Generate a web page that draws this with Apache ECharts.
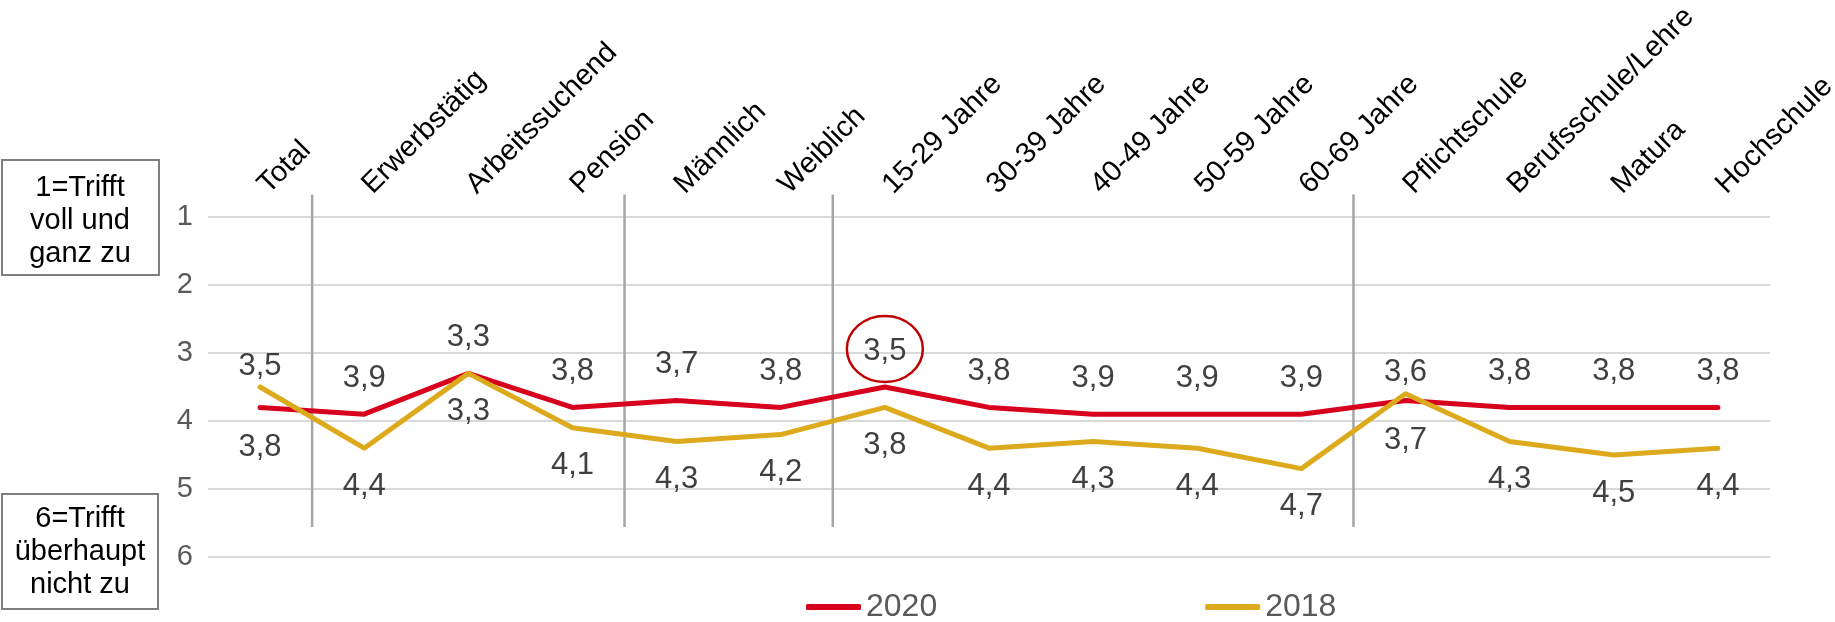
<!DOCTYPE html>
<html>
<head>
<meta charset="utf-8">
<title>Zustimmung nach Gruppen 2020 / 2018</title>
<script src="https://cdn.jsdelivr.net/npm/echarts@6/dist/echarts.min.js"></script>
<style>
  html, body { margin: 0; padding: 0; background: #ffffff; }
  #chart { width: 1835px; height: 622px; }
</style>
</head>
<body>
<div id="chart"></div>
<script>
// Groups shown along the top axis
const categories = [
  'Total', 'Erwerbstätig', 'Arbeitssuchend', 'Pension', 'Männlich', 'Weiblich',
  '15-29 Jahre', '30-39 Jahre', '40-49 Jahre', '50-59 Jahre', '60-69 Jahre',
  'Pflichtschule', 'Berufsschule/Lehre', 'Matura', 'Hochschule'
];

// Mean ratings (1 = trifft voll und ganz zu … 6 = trifft überhaupt nicht zu)
const values2020 = [3.8, 3.9, 3.3, 3.8, 3.7, 3.8, 3.5, 3.8, 3.9, 3.9, 3.9, 3.7, 3.8, 3.8, 3.8];
const values2018 = [3.5, 4.4, 3.3, 4.1, 4.3, 4.2, 3.8, 4.4, 4.3, 4.4, 4.7, 3.6, 4.3, 4.5, 4.4];

const seriesNames = ['2020', '2018'];
const yTicks = [1, 2, 3, 4, 5, 6];

// Last category of each group; a divider is drawn right after it
const groupEnds = ['Total', 'Pension', 'Weiblich', '60-69 Jahre'];

// 2020 value that gets a ring around its label
const highlightCategory = '15-29 Jahre';

const RED = '#d7001d';
const GOLD = '#dcaa1c';
const FONT = '"Liberation Sans", Arial, sans-serif';

const fmt = v => v.toFixed(1).replace('.', ',');

// Label placement: the lower-rated (higher on the chart) series puts its label above
function buildData(own, other, preferTopOnTie, topDist, bottomDist) {
  return own.map((v, i) => {
    const o = other[i];
    const top = v < o || (v === o && preferTopOnTie);
    return {
      value: v,
      label: {
        position: top ? 'top' : 'bottom',
        distance: top ? topDist : bottomDist
      }
    };
  });
}

const data2020 = buildData(values2020, values2018, true, 20, 24);
const data2018 = buildData(values2018, values2020, false, 5, 22);

const chart = echarts.init(document.getElementById('chart'), null, { renderer: 'canvas' });

const lineSeries = (name, data, color) => ({
  name,
  type: 'line',
  data,
  z: 3,
  symbol: 'circle',
  symbolSize: 1,
  itemStyle: { color },
  lineStyle: { color, width: 5, cap: 'round', join: 'round' },
  emphasis: { disabled: true },
  label: {
    show: true,
    formatter: p => fmt(p.value),
    fontSize: 31,
    fontFamily: FONT,
    color: '#404040'
  }
});

const option = {
  animation: false,
  backgroundColor: '#ffffff',
  textStyle: { fontFamily: FONT },
  grid: {
    left: 208, right: 65, top: 217, bottom: 65,
    containLabel: false,
    outerBoundsMode: 'none'
  },
  legend: {
    data: seriesNames,
    left: 801,
    top: 586,
    icon: 'roundRect',
    itemWidth: 55,
    itemHeight: 6,
    itemGap: 268,
    textStyle: { fontSize: 32, color: '#595959', fontFamily: FONT }
  },
  xAxis: {
    type: 'category',
    data: categories,
    position: 'top',
    boundaryGap: true,
    axisLine: { show: false },
    axisTick: { show: false },
    splitLine: { show: false },
    axisLabel: {
      interval: 0,
      rotate: -45,
      margin: 25,
      padding: [0, 0, 0, 4],
      fontSize: 29,
      color: '#000000',
      fontFamily: FONT
    }
  },
  yAxis: {
    type: 'value',
    inverse: true,
    min: yTicks[0],
    max: yTicks[yTicks.length - 1],
    interval: 1,
    axisLine: { show: false },
    axisTick: { show: false },
    splitLine: { lineStyle: { color: '#d9d9d9', width: 2 } },
    axisLabel: {
      margin: 15,
      fontSize: 29,
      color: '#595959',
      fontFamily: FONT,
      formatter: v => String(v)
    }
  },
  series: [
    // group dividers between category blocks
    {
      type: 'custom',
      silent: true,
      z: 1,
      data: groupEnds.map(c => [categories.indexOf(c), 1]),
      renderItem: (params, api) => {
        const idx = api.value(0);
        const half = api.size([1, 0])[0] / 2;
        const x = api.coord([idx, 1])[0] + half;
        const y0 = api.coord([idx, 0.67])[1];
        const y1 = api.coord([idx, 5.56])[1];
        return {
          type: 'line',
          shape: { x1: x, y1: y0, x2: x, y2: y1 },
          style: { stroke: '#a6a6a6', lineWidth: 2.5 }
        };
      }
    },
    lineSeries(seriesNames[0], data2020, RED),
    lineSeries(seriesNames[1], data2018, GOLD),
    // ring around the highlighted 2020 label
    {
      type: 'custom',
      silent: true,
      z: 4,
      data: [[categories.indexOf(highlightCategory), values2020[categories.indexOf(highlightCategory)]]],
      renderItem: (params, api) => {
        const p = api.coord([api.value(0), api.value(1)]);
        return {
          type: 'ellipse',
          shape: { cx: p[0], cy: p[1] - 38, rx: 38, ry: 33 },
          style: { fill: 'none', stroke: '#c00000', lineWidth: 2.5 }
        };
      }
    }
  ],
  graphic: [
    {
      type: 'group',
      left: 1, top: 159,
      children: [
        { type: 'rect', shape: { x: 0, y: 0, width: 157, height: 115 },
          style: { fill: '#ffffff', stroke: '#7f7f7f', lineWidth: 2 } },
        { type: 'text', x: 78, y: 61,
          style: { text: '1=Trifft\nvoll und\nganz zu', fontSize: 29, lineHeight: 33,
                   fontFamily: FONT, fill: '#000000', align: 'center', verticalAlign: 'middle' } }
      ]
    },
    {
      type: 'group',
      left: 1, top: 493,
      children: [
        { type: 'rect', shape: { x: 0, y: 0, width: 156, height: 115 },
          style: { fill: '#ffffff', stroke: '#7f7f7f', lineWidth: 2 } },
        { type: 'text', x: 78, y: 57.5,
          style: { text: '6=Trifft\nüberhaupt\nnicht zu', fontSize: 29, lineHeight: 33,
                   fontFamily: FONT, fill: '#000000', align: 'center', verticalAlign: 'middle' } }
      ]
    }
  ]
};

chart.setOption(option);
</script>
</body>
</html>
